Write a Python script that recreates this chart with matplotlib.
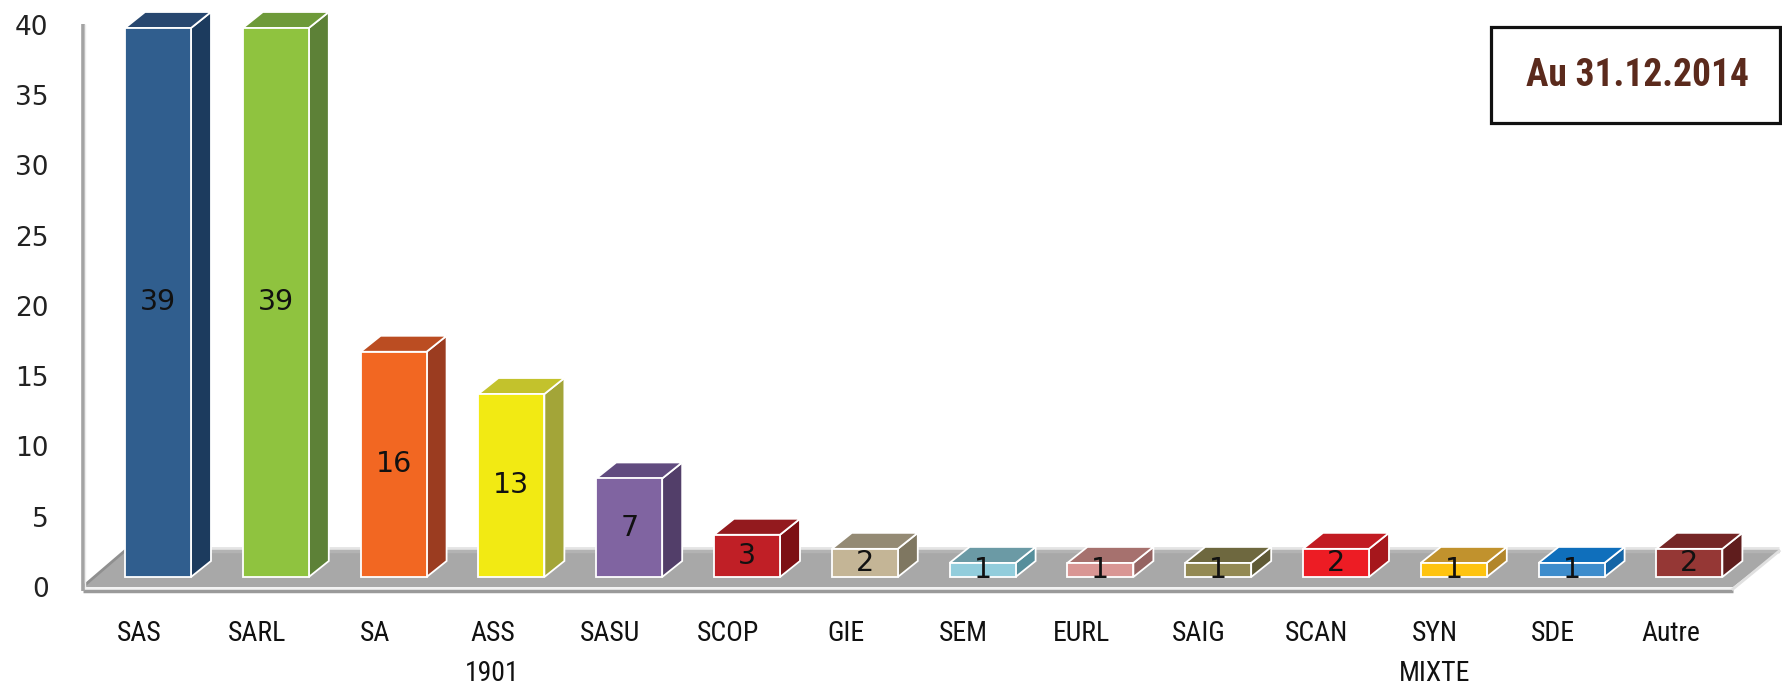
import matplotlib
matplotlib.use("Agg")
import matplotlib.pyplot as plt
from matplotlib.patches import Polygon, Rectangle
from matplotlib import font_manager as fm
import numpy as np

categories = ['SAS', 'SARL', 'SA', 'ASS\n1901', 'SASU', 'SCOP', 'GIE', 'SEM',
              'EURL', 'SAIG', 'SCAN', 'SYN\nMIXTE', 'SDE', 'Autre']
values = [39, 39, 16, 13, 7, 3, 2, 1, 1, 1, 2, 1, 1, 2]
front_colors = ['#305e8e', '#8fc33f', '#f26722', '#f2ea13', '#8064a1', '#c01f26', '#c4b596',
                '#92cddc', '#d99694', '#938953', '#ed1c24', '#fec30f', '#3d8ccc', '#953735']
side_colors = ['#1c3b5e', '#5d8137', '#9b3c20', '#a3a538', '#523e69', '#7d1014', '#7f7761',
               '#568e9b', '#956462', '#5f5a35', '#a6171c', '#b2862a', '#1565a6', '#5f1d1d']
top_colors = ['#27476f', '#6e9a39', '#bb4d22', '#c3c22c', '#614b7f', '#931a1e', '#948a74',
              '#6b9aa5', '#a6716e', '#6e683f', '#c21b22', '#c1922d', '#0f6fbc', '#752626']
yticks = [0, 5, 10, 15, 20, 25, 30, 35, 40]
title_text = 'Au 31.12.2014'

def _is_cond(f):
    n = f.name.lower()
    st = f.stretch
    if 'narrow' in n or 'condensed' in n:
        return True
    if isinstance(st, str) and 'condensed' in st:
        return True
    if isinstance(st, (int, float)) and st < 500:
        return True
    return False

cond_fonts = [f for f in fm.fontManager.ttflist if _is_cond(f)]
pref = ['Liberation Sans Narrow', 'Roboto Condensed', 'Open Sans Condensed',
        'DejaVu Sans Condensed', 'Noto Sans Condensed']
cond_family = None
cond_stretch = 'normal'
for p in pref:
    for f in cond_fonts:
        if f.name == p:
            cond_family = p
            cond_stretch = f.stretch
            break
    if cond_family:
        break
if cond_family is None and cond_fonts:
    cond_family = cond_fonts[0].name
    cond_stretch = cond_fonts[0].stretch
narrow_ok = cond_family is not None
if not narrow_ok:
    cond_family = 'DejaVu Sans'
    cond_stretch = 'normal'

W, H = 1782, 685
fig = plt.figure(figsize=(W / 100, H / 100), dpi=100)

left_px = 82
x0_px = 158.0
dx_px = 117.8
y0_px = 577.0
ppu = 14.077

xl = ((left_px - x0_px) / dx_px, (W - x0_px) / dx_px)
yl = (-(H - y0_px) / ppu, y0_px / ppu)

ax2 = fig.add_axes([left_px / W, 0, (W - left_px) / W, 1])
tppu = 14.05
t0 = 98.0
ax2.set_ylim(-t0 / tppu, (H - t0) / tppu)
ax2.set_yticks(yticks)
ax2.set_yticklabels([str(t) for t in yticks], fontsize=19, color='#222222', family='DejaVu Sans')
ax2.tick_params(axis='y', length=0, pad=24)
ax2.set_xticks([])
for s in ax2.spines.values():
    s.set_visible(False)
ax2.patch.set_visible(False)

ax = fig.add_axes([left_px / W, 0, (W - left_px) / W, 1])
ax.set_xlim(*xl)
ax.set_ylim(*yl)
ax.axis('off')
ax.patch.set_visible(False)

x = np.arange(len(categories))
bw = 0.56
ddx = 20 / dx_px
ddy = 16 / ppu

fy_front = (y0_px - 587) / ppu
fy_back = (y0_px - 551) / ppu
fdx = 42 / dx_px
fx_left = xl[0] + 0.005
fx_right = (1733 - x0_px) / dx_px
floor = Polygon([(fx_left, fy_front), (fx_right, fy_front), (fx_right + fdx * 1.1, fy_back),
                 (fx_left + fdx, fy_back)], closed=True, facecolor='#a8a8a8',
                edgecolor='none', zorder=1)
ax.add_patch(floor)
ax.plot([fx_left + fdx, fx_right + fdx * 1.1], [fy_back + 3 / ppu] * 2, color='#e4e4e4', lw=2, zorder=1.2, solid_capstyle='butt')
ax.plot([fx_left + fdx, fx_right + fdx * 1.1], [fy_back + 0.5 / ppu] * 2, color='#b3b3b3', lw=2.5, zorder=1.2, solid_capstyle='butt')
ax.plot([fx_left, fx_right], [fy_front - 0.5 / ppu] * 2, color='#f2f2f2', lw=2, zorder=1.3, solid_capstyle='butt')
ax.plot([fx_left, fx_right], [fy_front - 3.5 / ppu] * 2, color='#9a9a9a', lw=2.5, zorder=1.3, solid_capstyle='butt')
ax.plot([fx_right, fx_right + fdx * 1.1], [fy_front - 2 / ppu, fy_back], color='#e0e0e0', lw=2, zorder=1.3)
ax.plot([fx_left, fx_left + fdx], [fy_front, fy_back], color='#8f8f8f', lw=2, zorder=1.3)
ax.plot([fx_left, fx_left], [fy_front - 4 / ppu, (y0_px - 24) / ppu], color='#a3a3a3', lw=2.6,
        zorder=1.4, solid_capstyle='butt', clip_on=False)
ax.plot([fx_left + 2.2 / dx_px] * 2, [fy_front, (y0_px - 24) / ppu], color='#ececec', lw=1,
        zorder=1.4, solid_capstyle='butt')

bars = ax.bar(x, values, width=bw, bottom=0, color=front_colors, edgecolor='white',
              linewidth=1.3, zorder=3)
for i, (xi, v) in enumerate(zip(x, values)):
    xr = xi + bw / 2
    xlft = xi - bw / 2
    side = Polygon([(xr, 0), (xr + ddx, ddy), (xr + ddx, v + ddy), (xr, v)], closed=True,
                   facecolor=side_colors[i], edgecolor='white', linewidth=1.3, zorder=2.5)
    top = Polygon([(xlft, v), (xr, v), (xr + ddx, v + ddy), (xlft + ddx, v + ddy)], closed=True,
                  facecolor=top_colors[i], edgecolor='white', linewidth=1.3, zorder=2.6)
    ax.add_patch(side)
    ax.add_patch(top)
    ax.text(xi, v / 2, str(v), ha='center', va='center', fontsize=20.5,
            family='DejaVu Sans', color='#111111', zorder=10)

cat_size = 20 if narrow_ok else 16
lab_shift = -19 / dx_px
for xi, c in zip(x, categories):
    ax.text(xi + lab_shift, (y0_px - 620) / ppu, c, ha='center', va='top', fontsize=cat_size,
            family=[cond_family, 'DejaVu Sans'], fontstretch=cond_stretch, color='#111111',
            linespacing=1.62, zorder=10)

fig.patches.append(Rectangle((1491 / W, 1 - 123 / H), (1780 - 1491) / W, (123 - 27) / H,
                             transform=fig.transFigure, facecolor='white', edgecolor='#111111',
                             linewidth=2.3, zorder=5))
fig.text(1637 / W, 1 - 75 / H, title_text, ha='center', va='center',
         fontsize=27 if narrow_ok else 20,
         fontweight='bold', family=[cond_family, 'DejaVu Sans'], fontstretch=cond_stretch,
         color='#5b2a1c', zorder=6)

fig.savefig('out.png', dpi=100, facecolor='white')
